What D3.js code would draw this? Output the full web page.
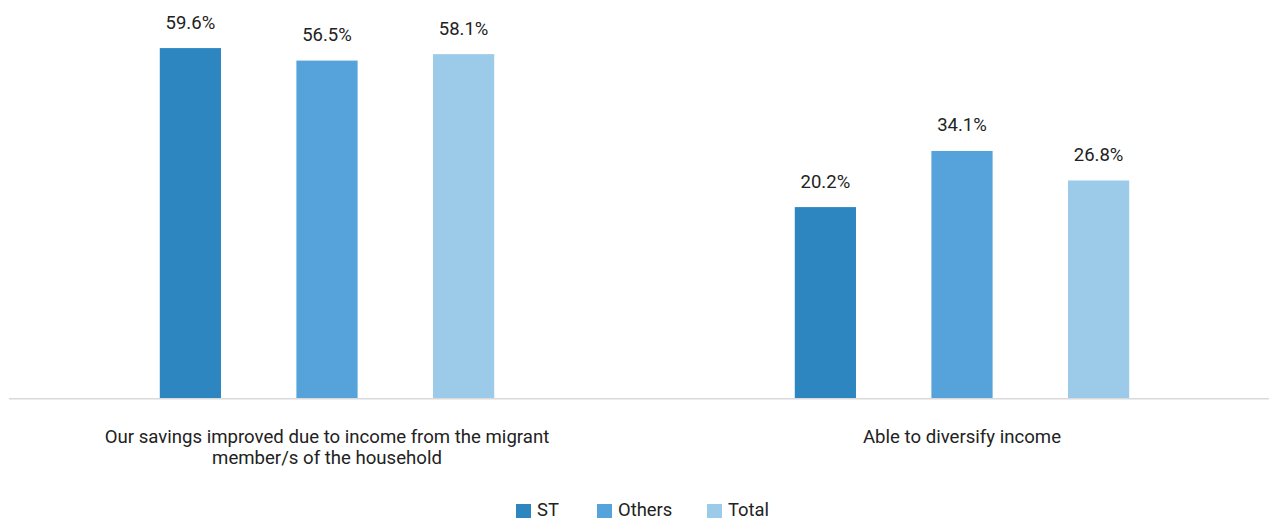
<!DOCTYPE html>
<html>
<head>
<meta charset="utf-8">
<script src="https://cdn.jsdelivr.net/npm/d3@7"></script>
<style>
  html, body { margin: 0; padding: 0; background: #ffffff; }
  svg { display: block; font-family: Roboto, "Noto Sans", sans-serif; }
</style>
</head>
<body>
<svg id="chart" width="1269" height="518"></svg>
<script>
// Survey outcomes by social group
const categories = [
  ["Our savings improved due to income from the migrant", "member/s of the household"],
  ["Able to diversify income"]
];
const seriesNames = ["ST", "Others", "Total"];
const stValues = [59.6, 20.2];
const othersValues = [56.5, 34.1];
const totalValues = [58.1, 26.8];
const seriesColors = ["#2E86C1", "#55A3DA", "#9CCBEA"];

const values = [stValues, othersValues, totalValues];

const svg = d3.select("#chart");
const baseY = 398;

// Category bands and series sub-bands
const x0 = d3.scaleBand()
  .domain(d3.range(categories.length))
  .range([9.5, 1279.5])
  .paddingInner(0)
  .paddingOuter(0);

const x1 = d3.scaleBand()
  .domain(seriesNames)
  .range([0, x0.bandwidth()])
  .paddingInner(0.552)
  .paddingOuter(1.1);

const y = d3.scaleLinear()
  .domain([-27.1, 60])
  .range([baseY, baseY - 87.1 * 4.036]);

// Bars
const groups = svg.append("g").selectAll("g")
  .data(categories.map((c, i) => i))
  .join("g")
  .attr("transform", i => `translate(${x0(i)},0)`);

groups.selectAll("rect")
  .data(i => seriesNames.map((s, k) => ({ s, k, v: values[k][i] })))
  .join("rect")
  .attr("x", d => x1(d.s))
  .attr("width", x1.bandwidth())
  .attr("y", d => y(d.v))
  .attr("height", d => baseY - y(d.v))
  .attr("fill", d => seriesColors[d.k]);

// Value labels
groups.selectAll("text.val")
  .data(i => seriesNames.map((s, k) => ({ s, k, v: values[k][i] })))
  .join("text")
  .attr("class", "val")
  .attr("x", d => x1(d.s) + x1.bandwidth() / 2)
  .attr("y", d => y(d.v) - 19.5)
  .attr("text-anchor", "middle")
  .attr("font-size", 18.5)
  .attr("fill", "#222")
  .text(d => d.v.toFixed(1) + "%");

// Baseline
svg.append("line")
  .attr("x1", 9).attr("x2", 1269)
  .attr("y1", baseY + 0.75).attr("y2", baseY + 0.75)
  .attr("stroke", "#d9d9d9")
  .attr("stroke-width", 1.5);

// Category labels
const catLabels = svg.append("g").selectAll("text")
  .data(categories)
  .join("text")
  .attr("x", (d, i) => x0(i) + x0.bandwidth() / 2)
  .attr("y", 443)
  .attr("text-anchor", "middle")
  .attr("font-size", 18.6)
  .attr("fill", "#222");

catLabels.selectAll("tspan")
  .data(d => d)
  .join("tspan")
  .attr("x", function () { return d3.select(this.parentNode).attr("x"); })
  .attr("dy", (d, i) => i === 0 ? 0 : 21)
  .text(d => d);

// Legend
const legendItems = [
  { name: seriesNames[0], color: seriesColors[0], x: 516 },
  { name: seriesNames[1], color: seriesColors[1], x: 597 },
  { name: seriesNames[2], color: seriesColors[2], x: 707 }
];
const legend = svg.append("g");
legend.selectAll("rect")
  .data(legendItems)
  .join("rect")
  .attr("x", d => d.x)
  .attr("y", 504)
  .attr("width", 15)
  .attr("height", 14)
  .attr("fill", d => d.color);
legend.selectAll("text")
  .data(legendItems)
  .join("text")
  .attr("x", d => d.x + 21)
  .attr("y", 516)
  .attr("font-size", 18.4)
  .attr("fill", "#222")
  .text(d => d.name);
</script>
</body>
</html>
